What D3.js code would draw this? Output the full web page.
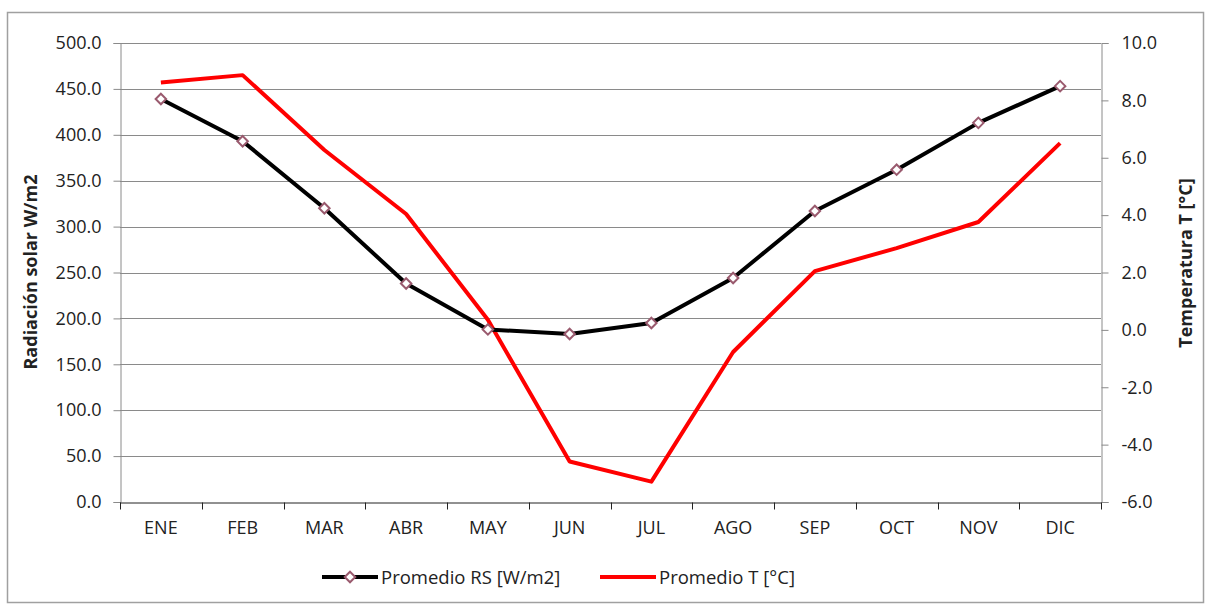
<!DOCTYPE html>
<html>
<head>
<meta charset="utf-8">
<script src="https://cdn.jsdelivr.net/npm/d3@7"></script>
<style>
  body { margin: 0; background: #fff; }
  svg text { font-family: "Open Sans", "Noto Sans", sans-serif; fill: #222; }
</style>
</head>
<body>
<svg id="chart" width="1209" height="605"></svg>
<script>
var meses = ["ENE", "FEB", "MAR", "ABR", "MAY", "JUN", "JUL", "AGO", "SEP", "OCT", "NOV", "DIC"];
var radiacion = [439, 393, 320, 238, 188, 183, 195, 244, 317, 362, 413, 453];
var temperatura = [8.62, 8.88, 6.27, 4.04, 0.35, -4.59, -5.29, -0.77, 2.05, 2.85, 3.76, 6.51];
var ticksRS = [0, 50, 100, 150, 200, 250, 300, 350, 400, 450, 500];
var ticksT = [-6, -4, -2, 0, 2, 4, 6, 8, 10];

var svg = d3.select("#chart");
var plotLeft = 120, plotRight = 1101, plotTop = 43, plotBottom = 502;
var fmt = function(d){ return d.toFixed(1); };

// marco
svg.append("rect")
  .attr("x", 7.5).attr("y", 12.5)
  .attr("width", 1196).attr("height", 590)
  .attr("fill", "#fff").attr("stroke", "#a0a0a0").attr("stroke-width", 1.5);

var x = d3.scaleBand().domain(meses).range([plotLeft, plotRight]);
var yRS = d3.scaleLinear().domain([0, 500]).range([plotBottom, plotTop]);
var yT = d3.scaleLinear().domain([-6, 10]).range([plotBottom, plotTop]);

// lineas de grilla
svg.append("g").selectAll("line")
  .data(ticksRS.slice(1))
  .join("line")
  .attr("x1", plotLeft).attr("x2", plotRight)
  .attr("y1", function(d){ return Math.round(yRS(d)) + 0.5; })
  .attr("y2", function(d){ return Math.round(yRS(d)) + 0.5; })
  .attr("stroke", "#8a8a8a").attr("stroke-width", 1);

// eje izquierdo
var ejeY = svg.append("g")
  .attr("transform", "translate(" + (plotLeft + 0.5) + ",0)")
  .call(d3.axisLeft(yRS).tickValues(ticksRS).tickFormat(fmt).tickSize(7).tickPadding(12));
ejeY.selectAll("text").style("font-size", "18px");

// eje derecho
var ejeY2 = svg.append("g")
  .attr("transform", "translate(" + (plotRight + 0.5) + ",0)")
  .call(d3.axisRight(yT).tickValues(ticksT).tickFormat(fmt).tickSize(7).tickPadding(13));
ejeY2.selectAll("text").style("font-size", "18px");

// eje x
var ejeX = svg.append("g")
  .attr("transform", "translate(0," + (plotBottom + 0.5) + ")")
  .call(d3.axisBottom(x).tickSize(0).tickPadding(19));
ejeX.selectAll("text").style("font-size", "18px");
ejeX.select(".domain").attr("stroke", "#222");
ejeX.selectAll(".sep")
  .data(d3.range(meses.length + 1))
  .join("line")
  .attr("class", "sep")
  .attr("x1", function(i){ return Math.round(plotLeft + i * x.step()) + 0.5; })
  .attr("x2", function(i){ return Math.round(plotLeft + i * x.step()) + 0.5; })
  .attr("y1", 0).attr("y2", 7)
  .attr("stroke", "#222");

svg.selectAll(".domain").attr("stroke-width", 1);
ejeY.select(".domain").attr("stroke", "#8a8a8a");
ejeY2.select(".domain").attr("stroke", "#8a8a8a");
ejeY.selectAll(".tick line").attr("stroke", "#8a8a8a");
ejeY2.selectAll(".tick line").attr("stroke", "#8a8a8a");

// titulos de ejes
svg.append("text")
  .attr("transform", "translate(37,272) rotate(-90)")
  .attr("text-anchor", "middle")
  .style("font-size", "18px").style("font-weight", "bold")
  .text("Radiación solar W/m2");
svg.append("text")
  .attr("transform", "translate(1192,263) rotate(-90)")
  .attr("text-anchor", "middle")
  .style("font-size", "18px").style("font-weight", "bold")
  .text("Temperatura T [°C]");

// series
var cx = function(d, i){ return x(meses[i]) + x.bandwidth() / 2; };

svg.append("path")
  .datum(temperatura)
  .attr("fill", "none").attr("stroke", "#ff0000").attr("stroke-width", 4)
  .attr("stroke-linejoin", "round")
  .attr("d", d3.line().x(cx).y(function(d){ return yT(d); }));

svg.append("path")
  .datum(radiacion)
  .attr("fill", "none").attr("stroke", "#000").attr("stroke-width", 4)
  .attr("stroke-linejoin", "round")
  .attr("d", d3.line().x(cx).y(function(d){ return yRS(d); }));

var diamante = d3.symbol().type(d3.symbolDiamond2).size(70);
svg.append("g").selectAll("path")
  .data(radiacion)
  .join("path")
  .attr("transform", function(d, i){ return "translate(" + cx(d, i) + "," + yRS(d) + ")"; })
  .attr("d", diamante)
  .attr("fill", "#fff").attr("stroke", "#9a5a6e").attr("stroke-width", 2);

// leyenda
var ley = svg.append("g");
ley.append("line").attr("x1", 322).attr("x2", 378).attr("y1", 577).attr("y2", 577)
  .attr("stroke", "#000").attr("stroke-width", 4);
ley.append("path").attr("transform", "translate(350,577)").attr("d", diamante)
  .attr("fill", "#fff").attr("stroke", "#9a5a6e").attr("stroke-width", 2);
ley.append("text").attr("x", 381).attr("y", 584).style("font-size", "18.5px")
  .text("Promedio RS [W/m2]");
ley.append("line").attr("x1", 600).attr("x2", 656).attr("y1", 577).attr("y2", 577)
  .attr("stroke", "#ff0000").attr("stroke-width", 4);
ley.append("text").attr("x", 659).attr("y", 584).style("font-size", "18.5px")
  .text("Promedio T [°C]");
</script>
</body>
</html>
